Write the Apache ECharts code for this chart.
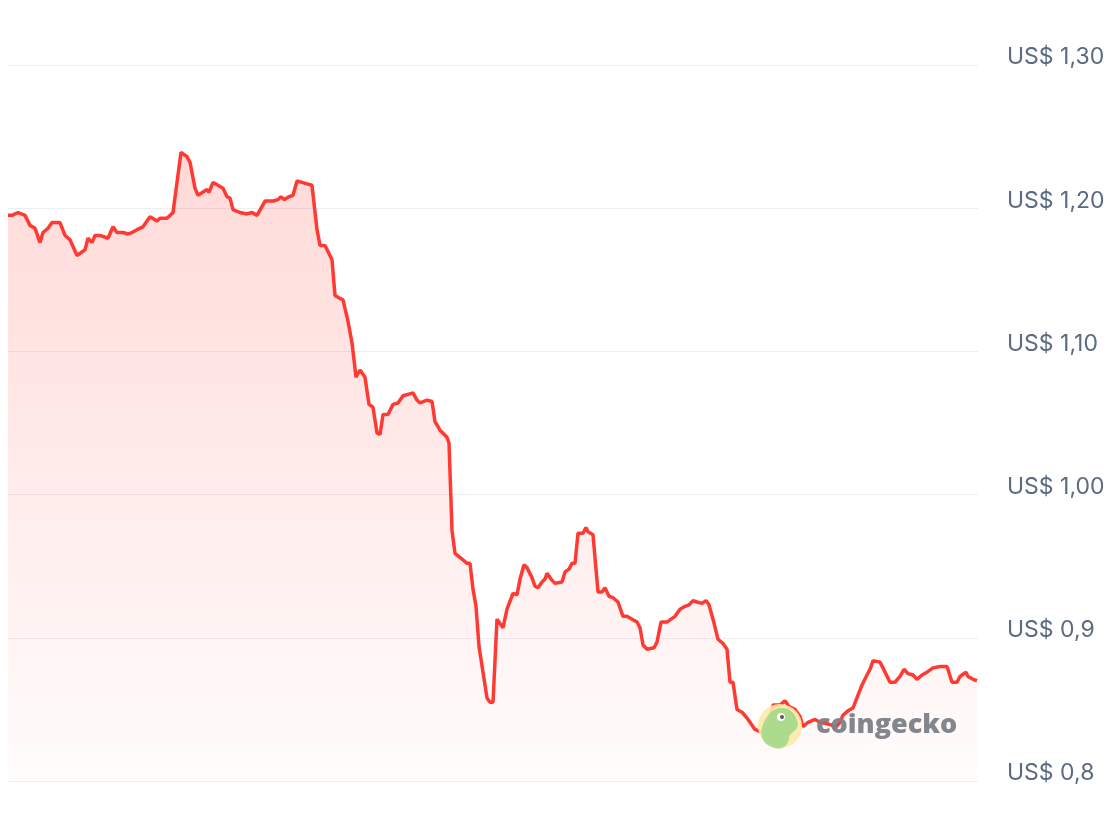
<!DOCTYPE html>
<html>
<head>
<meta charset="utf-8">
<script src="https://cdn.jsdelivr.net/npm/echarts@6/dist/echarts.min.js"></script>
<style>
html,body{margin:0;padding:0;background:#fff;}
#chart{width:1112px;height:830px;}
</style>
</head>
<body>
<div id="chart"></div>
<script>
// time positions (arbitrary time index units, 0..970) and prices (USD)
const timeIdx = [0,4,10,17,22,27,32,35,40,44,52,57,62,69,77,80,84,87,92,100,105,109,115,120,124,129,135,142,149,152,159,165,169,173,179,182,187,190,199,201,205,210,215,219,222,225,232,239,244,249,257,260,265,270,273,276,281,285,289,294,299,304,309,312,317,324,327,332,335,340,344,348,352,357,361,365,369,372,375,380,385,390,395,400,405,409,412,419,424,427,432,439,441,444,447,454,459,462,465,468,471,475,479,482,485,489,492,495,499,505,509,512,516,519,524,527,530,534,537,539,543,547,554,557,561,564,567,570,575,578,580,585,590,594,597,601,605,610,615,619,624,629,632,635,639,646,649,653,659,663,667,672,677,681,685,689,694,698,701,705,710,715,719,722,725,729,734,739,744,747,754,759,765,772,777,781,787,792,795,800,807,812,819,824,827,832,835,840,845,850,854,859,862,865,872,875,882,887,892,896,900,905,909,914,919,925,932,939,944,949,952,958,960,965,969];
const prices = [1.195,1.195,1.197,1.195,1.188,1.186,1.176,1.183,1.186,1.190,1.190,1.181,1.178,1.167,1.171,1.179,1.176,1.181,1.181,1.179,1.187,1.183,1.183,1.182,1.183,1.185,1.187,1.194,1.191,1.193,1.193,1.197,1.218,1.239,1.236,1.232,1.214,1.209,1.213,1.211,1.218,1.216,1.214,1.208,1.207,1.199,1.197,1.196,1.197,1.195,1.205,1.205,1.205,1.206,1.208,1.206,1.208,1.209,1.219,1.218,1.217,1.216,1.185,1.174,1.174,1.164,1.139,1.137,1.136,1.121,1.106,1.082,1.087,1.082,1.063,1.061,1.043,1.042,1.056,1.056,1.063,1.064,1.069,1.070,1.071,1.066,1.064,1.066,1.065,1.051,1.045,1.040,1.036,0.975,0.959,0.955,0.952,0.952,0.934,0.922,0.894,0.876,0.858,0.855,0.855,0.913,0.910,0.907,0.920,0.931,0.930,0.941,0.951,0.949,0.942,0.936,0.935,0.939,0.941,0.945,0.941,0.938,0.939,0.946,0.948,0.952,0.952,0.973,0.973,0.977,0.974,0.972,0.932,0.932,0.935,0.929,0.928,0.925,0.915,0.915,0.913,0.911,0.907,0.895,0.892,0.893,0.897,0.911,0.911,0.913,0.915,0.920,0.922,0.923,0.926,0.925,0.924,0.926,0.923,0.913,0.899,0.896,0.892,0.869,0.869,0.850,0.848,0.844,0.839,0.836,0.834,0.838,0.853,0.853,0.856,0.852,0.850,0.845,0.838,0.841,0.843,0.841,0.840,0.839,0.837,0.841,0.846,0.849,0.851,0.860,0.867,0.874,0.878,0.884,0.883,0.879,0.869,0.869,0.873,0.878,0.875,0.874,0.871,0.874,0.876,0.879,0.880,0.880,0.869,0.869,0.873,0.876,0.873,0.871,0.870];
const yTickLabels = ['US$ 0,8','US$ 0,9','US$ 1,00','US$ 1,10','US$ 1,20','US$ 1,30'];

const seriesData = timeIdx.map((t, i) => [t, prices[i]]);

const chart = echarts.init(document.getElementById('chart'), null, {renderer: 'canvas'});
chart.setOption({
  animation: false,
  backgroundColor: '#ffffff',
  grid: {left: 8, right: 134, top: 65, bottom: 49, containLabel: false},
  xAxis: {
    type: 'value', min: 0, max: 970,
    show: false
  },
  yAxis: {
    type: 'value', position: 'right',
    min: 0.8, max: 1.3, interval: 0.1,
    axisLine: {show: false}, axisTick: {show: false},
    splitLine: {show: true, lineStyle: {color: '#eceef3', width: 1}},
    axisLabel: {
      margin: 29,
      color: '#5b6b82',
      fontFamily: 'Inter, "Noto Sans", sans-serif',
      fontSize: 23,
      verticalAlign: 'bottom',
      lineHeight: 15,
      formatter: function (v) {
        const idx = Math.round((v - 0.8) / 0.1);
        return yTickLabels[idx] !== undefined ? yTickLabels[idx] : '';
      }
    }
  },
  series: [{
    type: 'line',
    data: seriesData,
    showSymbol: false,
    symbol: 'none',
    lineStyle: {color: '#ff3a33', width: 3.5},
    areaStyle: {
      color: {
        type: 'linear', x: 0, y: 0, x2: 0, y2: 1,
        colorStops: [
          {offset: 0, color: 'rgba(255,59,48,0.27)'},
          {offset: 1, color: 'rgba(255,59,48,0.02)'}
        ]
      }
    },
    z: 2
  }],
  graphic: [
    {type: 'circle', z: 100, shape: {cx: 780, cy: 726, r: 22}, style: {fill: '#fdeaa6', opacity: 0.9}},
    {type: 'polygon', z: 101, shape: {smooth: 0.4, points: [[763,740],[772,747],[782,748],[788,742],[790,735],[797,728],[797,720],[791,711],[783,708],[774,710],[767,717],[762,728]]}, style: {fill: '#a9da8c', opacity: 0.95}},
    {type: 'circle', z: 102, shape: {cx: 781, cy: 717, r: 4}, style: {fill: '#ffffff'}},
    {type: 'circle', z: 103, shape: {cx: 782, cy: 717, r: 2}, style: {fill: '#555a60'}},
    {type: 'text', z: 104, x: 816, y: 725, style: {text: 'coingecko', fill: '#7c7f87', opacity: 0.95, font: '800 27px "Open Sans", sans-serif', verticalAlign: 'middle', align: 'left'}}
  ]
});
</script>
</body>
</html>
